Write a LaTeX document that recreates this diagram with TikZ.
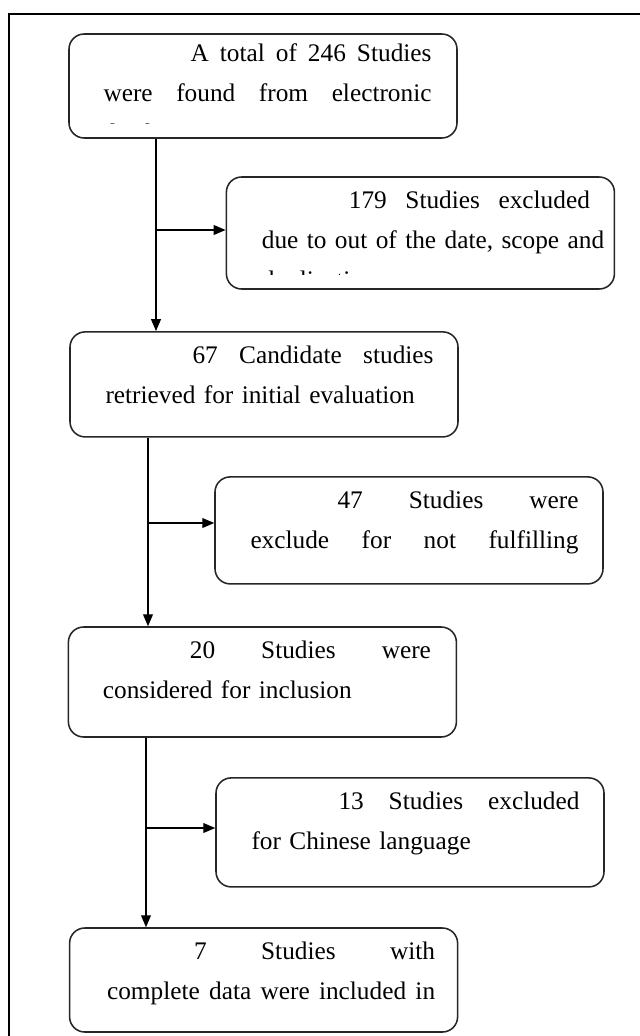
\documentclass[tikz,border=0pt]{standalone}
\usepackage{fontspec}
\setmainfont{Liberation Serif}
\usetikzlibrary{arrows.meta}

\newcommand{\headline}[1]{\leavevmode\hspace*{2.175cm}\hbox to 6.025cm{#1}}
\newcommand{\fullline}[1]{\leavevmode\hbox to 8.2cm{#1}}

\begin{document}
\begin{tikzpicture}[stage/.style={draw=black!85, line width=1.1pt, rounded corners=0.38cm, minimum width=9.7cm, inner sep=0pt},
  words/.style={anchor=north west, inner sep=0pt, text width=8.2cm, align=left, font=\fontsize{18}{28.45}\selectfont},
  flow/.style={draw, line width=0.9pt, -{Triangle[length=8.5pt,width=7pt]}}]

\useasboundingbox (0,0) rectangle (16,-25.9);

% frame
\coordinate (framestart) at (0.225,-25.9);
\coordinate (framecorner) at (0.225,-0.35);
\coordinate (framestop) at (16,-0.35);
\draw[line width=1.6pt] (framestart) -- (framecorner) -- (framestop);

% boxes
\node[stage, minimum height=2.6cm] (found) at (6.575,-2.15) {};
\node[stage, minimum height=2.8cm] (dropscope) at (10.51,-5.825) {};
\node[stage, minimum height=2.625cm] (candidates) at (6.6,-9.61) {};
\node[stage, minimum height=2.675cm] (dropcriteria) at (10.225,-13.26) {};
\node[stage, minimum height=2.75cm] (considered) at (6.56,-17.05) {};
\node[stage, minimum height=2.725cm] (dropchinese) at (10.25,-20.81) {};
\node[stage, minimum height=2.6cm] (included) at (6.59,-24.5) {};

% texts
\begin{scope}
\clip (1.7,-0.8) rectangle (11.5,-3.1);
\node[words] (foundtext) at ([shift={(0.875,0)}]found.north west)
  {\strut\headline{A \hfill total \hfill of \hfill 246 \hfill Studies}\\
   \fullline{were \hfill found \hfill from \hfill electronic}\\ databases};
\end{scope}
\begin{scope}
\clip (5.6,-4.4) rectangle (15.4,-6.85);
\node[words] (dropscopetext) at ([shift={(0.9,-0.1)}]dropscope.north west)
  {\strut\headline{179 \hfill Studies \hfill excluded}\\
   \fullline{due \hfill to \hfill out \hfill of \hfill the \hfill date, \hfill scope \hfill and}\\ duplication};
\end{scope}
\node[words] (candidatestext) at ([shift={(0.9,-0.1)}]candidates.north west)
  {\strut\headline{67 \hfill Candidate \hfill studies}\\ retrieved for initial evaluation};
\node[words] (dropcriteriatext) at ([shift={(0.9,-0.1)}]dropcriteria.north west)
  {\strut\headline{47 \hfill Studies \hfill were}\\
   \fullline{exclude \hfill for \hfill not \hfill fulfilling}};
\node[words] (consideredtext) at ([shift={(0.875,-0.1)}]considered.north west)
  {\strut\headline{20 \hfill Studies \hfill were}\\ considered for inclusion};
\node[words] (dropchinesetext) at ([shift={(0.9,-0.1)}]dropchinese.north west)
  {\strut\headline{13 \hfill Studies \hfill excluded}\\ for Chinese language};
\node[words] (includedtext) at ([shift={(0.95,-0.1)}]included.north west)
  {\strut\headline{7 \hfill Studies \hfill with}\\
   \fullline{complete \hfill data \hfill were \hfill included \hfill in}};

% connectors
\coordinate (split1) at (3.9,-5.75);
\draw[flow] (found.south -| split1) -- (candidates.north -| split1);
\draw[flow] (split1) -- (split1 -| dropscope.west);

\coordinate (split2) at (3.7,-13.075);
\draw[flow] (candidates.south -| split2) -- (considered.north -| split2);
\draw[flow] (split2) -- (split2 -| dropcriteria.west);

\coordinate (split3) at (3.65,-20.7);
\draw[flow] (considered.south -| split3) -- (included.north -| split3);
\draw[flow] (split3) -- (split3 -| dropchinese.west);

\end{tikzpicture}
\end{document}
